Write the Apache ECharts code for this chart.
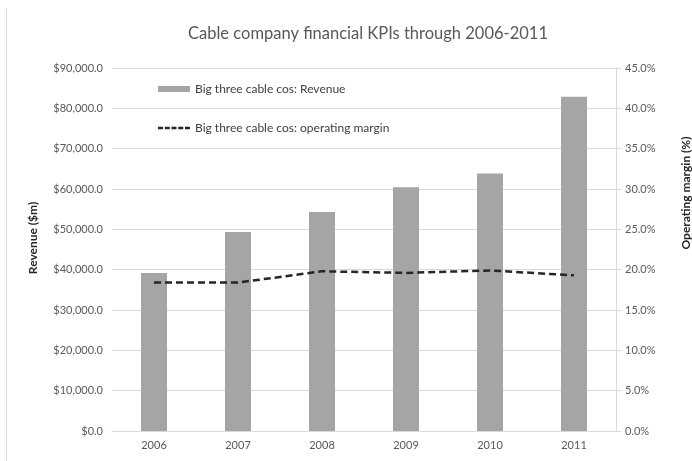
<!DOCTYPE html>
<html>
<head>
<meta charset="utf-8">
<script src="https://cdn.jsdelivr.net/npm/echarts@6/dist/echarts.min.js"></script>
<style>
  html, body { margin: 0; padding: 0; background: #fff; }
  #chart { width: 692px; height: 461px; }
</style>
</head>
<body>
<div id="chart"></div>
<script>
// Years on the category axis
const years = ['2006', '2007', '2008', '2009', '2010', '2011'];
// Combined revenue of the big three cable companies, $m
const revenue = [39150, 49350, 54300, 60450, 63850, 82850];
// Operating margin, %
const operatingMargin = [18.4, 18.4, 19.8, 19.6, 19.9, 19.3];

const FONT = 'Lato, "Open Sans", sans-serif';
const LABEL_GREY = '#595959';
const GRID_GREY = '#d9d9d9';

// Legend key for the dashed line: five short dashes
const DASH_ICON = 'path://M0,0h5v2.5h-5z M6.75,0h5v2.5h-5z M13.5,0h5v2.5h-5z M20.25,0h5v2.5h-5z M27,0h5v2.5h-5z';

const chart = echarts.init(document.getElementById('chart'), null, { renderer: 'canvas' });

chart.setOption({
  backgroundColor: '#fff',
  animation: false,
  textStyle: { fontFamily: FONT },
  title: {
    text: 'Cable company financial KPIs through 2006-2011',
    left: 363,
    top: 20,
    textAlign: 'center',
    textStyle: { fontFamily: FONT, fontSize: 16.5, fontWeight: 'normal', color: LABEL_GREY }
  },
  legend: [
    {
      data: [{ name: 'Big three cable cos: Revenue', icon: 'rect' }],
      left: 158, top: 83, padding: 0,
      itemWidth: 32, itemHeight: 6,
      textStyle: { fontFamily: FONT, fontSize: 12, color: '#404040' }
    },
    {
      data: [{ name: 'Big three cable cos: operating margin', icon: DASH_ICON }],
      left: 158, top: 122, padding: 0,
      itemWidth: 32, itemHeight: 2.5,
      itemStyle: { color: '#262626' },
      textStyle: { fontFamily: FONT, fontSize: 12, color: '#404040' }
    }
  ],
  grid: { left: 112, right: 76, top: 68, bottom: 30, containLabel: false },
  xAxis: {
    type: 'category',
    data: years,
    axisLine: { lineStyle: { color: GRID_GREY, width: 1 } },
    axisTick: { show: false },
    axisLabel: { color: LABEL_GREY, fontSize: 11, margin: 9, fontFamily: FONT }
  },
  yAxis: [
    {
      type: 'value',
      min: 0, max: 90000, interval: 10000,
      axisLine: { show: false },
      axisTick: { show: false },
      splitLine: { lineStyle: { color: GRID_GREY, width: 1 } },
      axisLabel: {
        color: LABEL_GREY, fontSize: 11, margin: 9, fontFamily: FONT,
        formatter: v => '$' + v.toLocaleString('en-US', { minimumFractionDigits: 1, maximumFractionDigits: 1 })
      }
    },
    {
      type: 'value',
      position: 'right',
      min: 0, max: 45, interval: 5,
      axisLine: { show: true, lineStyle: { color: GRID_GREY, width: 1 } },
      axisTick: { show: true, length: 5, lineStyle: { color: GRID_GREY } },
      splitLine: { show: false },
      axisLabel: {
        color: LABEL_GREY, fontSize: 11, margin: 9, fontFamily: FONT,
        formatter: v => v.toFixed(1) + '%'
      }
    }
  ],
  series: [
    {
      name: 'Big three cable cos: Revenue',
      type: 'bar',
      data: revenue,
      barWidth: 26,
      itemStyle: { color: '#a5a5a5' }
    },
    {
      name: 'Big three cable cos: operating margin',
      type: 'line',
      yAxisIndex: 1,
      data: operatingMargin,
      symbol: 'none',
      lineStyle: { color: '#262626', width: 2.5, type: [7, 4] },
      itemStyle: { color: '#262626' }
    }
  ],
  graphic: [
    // thin frame edge on the left
    {
      type: 'line',
      shape: { x1: 6.5, y1: 8, x2: 6.5, y2: 461 },
      style: { stroke: GRID_GREY, lineWidth: 1 }
    },
    {
      type: 'text',
      x: 33, y: 238,
      rotation: Math.PI / 2,
      style: {
        text: 'Revenue ($m)',
        fontFamily: FONT, fontSize: 12, fontWeight: 'bold', fill: '#262626',
        align: 'center', verticalAlign: 'middle'
      }
    },
    {
      type: 'text',
      x: 686, y: 193,
      rotation: Math.PI / 2,
      style: {
        text: 'Operating margin (%)',
        fontFamily: FONT, fontSize: 12, fontWeight: 'bold', fill: '#262626',
        align: 'center', verticalAlign: 'middle'
      }
    }
  ]
});
</script>
</body>
</html>
